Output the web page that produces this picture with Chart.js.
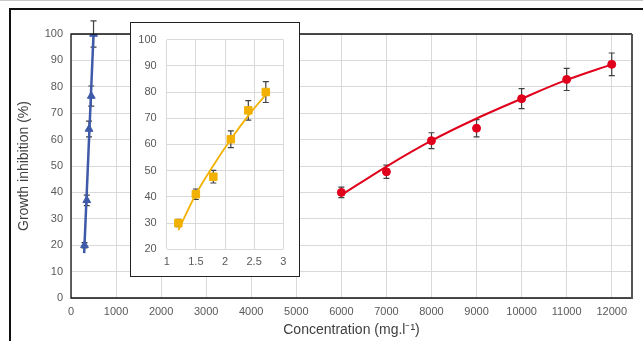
<!DOCTYPE html>
<html>
<head>
<meta charset="utf-8">
<script src="https://cdn.jsdelivr.net/npm/chart.js@4.4.1/dist/chart.umd.min.js"></script>
<style>
  html, body { margin: 0; padding: 0; background: #fff; }
  #wrap { position: relative; width: 643px; height: 341px; overflow: hidden; }
  #topline { position: absolute; left: 0; top: 0; width: 643px; height: 1px; background: #c8c8c8; }
  #frame { position: absolute; left: 9px; top: 8px; width: 700px; height: 400px; border: 2px solid #111; }
  #main { position: absolute; left: 0; top: 0; }
  #insetBox { position: absolute; left: 130px; top: 22px; width: 168px; height: 253px; border: 1px solid #222; background: #fff; }
</style>
</head>
<body>
<div id="wrap">
  <div id="topline"></div>
  <div id="frame"></div>
  <canvas id="main" width="643" height="341"></canvas>
  <div id="insetBox"><canvas id="inset" width="168" height="253"></canvas></div>
</div>
<script>
// blue series (low concentrations)
const blueX = [300, 350, 400, 450, 500];
const blueY = [20, 37, 64, 76.5, 100];
const blueErr = [1, 2, 3, 3.8, 5];
const blueTrendX = [292, 500];
const blueTrendY = [17, 100];

// red series (high concentrations)
const redX = [6000, 7000, 8000, 9000, 10000, 11000, 12000];
const redY = [40, 47.8, 59.6, 64.3, 75.5, 82.8, 88.5];
const redErr = [2, 2.5, 3, 3.3, 3.8, 4.2, 4.3];
const redTrendY = [39, 49.8, 59.6, 68, 75.5, 82.6, 88.5];

// inset (yellow)
const insetX = [1.2, 1.5, 1.8, 2.1, 2.4, 2.7];
const insetY = [30, 41, 47.7, 62, 73, 80];
const insetErr = [1.4, 2, 2.4, 3.2, 3.7, 4];
const insetTrendY = [27.3, 41, 52, 62, 71, 79];

// x tick labels of the main plot
const xTicks = [0, 1000, 2000, 3000, 4000, 5000, 6000, 7000, 8000, 9000, 10000, 11000, 12000];

const font = "'Liberation Sans', Arial, sans-serif";
const tickColor = '#595959';
const gridColor = '#d9d9d9';

const pts = (xs, ys) => xs.map((x, i) => ({ x: x, y: ys[i] }));

const errorBars = {
  id: 'errorBars',
  beforeDatasetsDraw(chart) {
    const ctx = chart.ctx;
    const xs = chart.scales.x, ys = chart.scales.y;
    chart.data.datasets.forEach(ds => {
      if (!ds.errors) return;
      ctx.save();
      ctx.strokeStyle = '#404040';
      ctx.lineWidth = 1.2;
      ds.data.forEach((p, i) => {
        const px = xs.getPixelForValue(p.x);
        const top = ys.getPixelForValue(p.y + ds.errors[i]);
        const bot = ys.getPixelForValue(p.y - ds.errors[i]);
        ctx.beginPath();
        ctx.moveTo(px, top); ctx.lineTo(px, bot);
        ctx.moveTo(px - 3, top); ctx.lineTo(px + 3, top);
        ctx.moveTo(px - 3, bot); ctx.lineTo(px + 3, bot);
        ctx.stroke();
      });
      ctx.restore();
    });
  }
};

const plotBorder = {
  id: 'plotBorder',
  afterDraw(chart) {
    const a = chart.chartArea, ctx = chart.ctx;
    ctx.save();
    ctx.strokeStyle = '#111';
    ctx.lineWidth = 1.3;
    ctx.beginPath();
    ctx.moveTo(a.right, a.top); ctx.lineTo(a.left, a.top);
    ctx.lineTo(a.left, a.bottom); ctx.lineTo(a.right, a.bottom);
    ctx.stroke();
    ctx.strokeStyle = '#555';
    ctx.lineWidth = 2;
    ctx.beginPath();
    ctx.moveTo(a.right, a.top); ctx.lineTo(a.right, a.bottom + 1);
    ctx.stroke();
    ctx.restore();
  }
};

new Chart(document.getElementById('main'), {
  type: 'scatter',
  data: {
    datasets: [
      {
        data: pts(blueX, blueY), errors: blueErr,
        pointStyle: 'triangle', pointRadius: 4.5,
        backgroundColor: '#3f5aa8', borderColor: '#3f5aa8', showLine: false
      },
      {
        data: pts(redX, redY), errors: redErr,
        pointStyle: 'circle', pointRadius: 4,
        backgroundColor: '#e0001b', borderColor: '#e0001b', showLine: false
      },
      {
        data: pts(blueTrendX, blueTrendY), showLine: true, pointRadius: 0,
        borderColor: '#3f5aa8', borderWidth: 2.5
      },
      {
        data: pts(redX, redTrendY), showLine: true, pointRadius: 0,
        borderColor: '#e0001b', borderWidth: 2, cubicInterpolationMode: 'monotone'
      }
    ]
  },
  options: {
    responsive: false,
    animation: false,
    events: [],
    layout: { padding: { left: 10, right: 11, top: 34, bottom: 0 } },
    plugins: { legend: { display: false }, tooltip: { enabled: false } },
    scales: {
      x: {
        type: 'linear', min: 0, max: 12450,
        afterBuildTicks: s => { s.ticks = xTicks.map(v => ({ value: v })); },
        afterFit: s => { s.height = 43; },
        ticks: { padding: 7, color: tickColor, font: { family: font, size: 11 }, maxRotation: 0, autoSkip: false, callback: v => String(v) },
        grid: { color: gridColor, drawTicks: false },
        border: { display: false },
        title: { display: true, text: 'Concentration (mg.l\u207B\u00B9)', color: '#404040', font: { family: font, size: 14 }, padding: { top: 0, bottom: 2 } }
      },
      y: {
        min: 0, max: 100,
        afterFit: s => { s.width = 61; },
        ticks: { stepSize: 10, padding: 8, color: tickColor, font: { family: font, size: 11 } },
        grid: { color: gridColor, drawTicks: false },
        border: { display: false },
        title: { display: true, text: 'Growth inhibition (%)', color: '#404040', font: { family: font, size: 14 }, padding: { top: 6, bottom: 0 } }
      }
    }
  },
  plugins: [errorBars, plotBorder]
});

new Chart(document.getElementById('inset'), {
  type: 'scatter',
  data: {
    datasets: [
      {
        data: pts(insetX, insetY), errors: insetErr,
        pointStyle: 'rect', pointRadius: 5.3,
        backgroundColor: '#f2b100', borderColor: '#f2b100', showLine: false
      },
      {
        data: pts(insetX, insetTrendY), showLine: true, pointRadius: 0,
        borderColor: '#f2b100', borderWidth: 1.8, cubicInterpolationMode: 'monotone'
      }
    ]
  },
  options: {
    responsive: false,
    animation: false,
    events: [],
    layout: { padding: { left: 0, right: 15.7, top: 12.3, bottom: 0 } },
    plugins: { legend: { display: false }, tooltip: { enabled: false } },
    scales: {
      x: {
        type: 'linear', min: 1, max: 3,
        afterFit: s => { s.height = 26.7; },
        ticks: { stepSize: 0.5, padding: 6, color: tickColor, font: { family: font, size: 11 }, maxRotation: 0, callback: v => String(v) },
        grid: { color: gridColor, drawTicks: false },
        border: { display: false }
      },
      y: {
        min: 20, max: 100,
        afterFit: s => { s.width = 35.7; },
        ticks: { stepSize: 10, padding: 10, color: tickColor, font: { family: font, size: 11 } },
        grid: { color: gridColor, drawTicks: false },
        border: { display: false }
      }
    }
  },
  plugins: [errorBars]
});
</script>
</body>
</html>
